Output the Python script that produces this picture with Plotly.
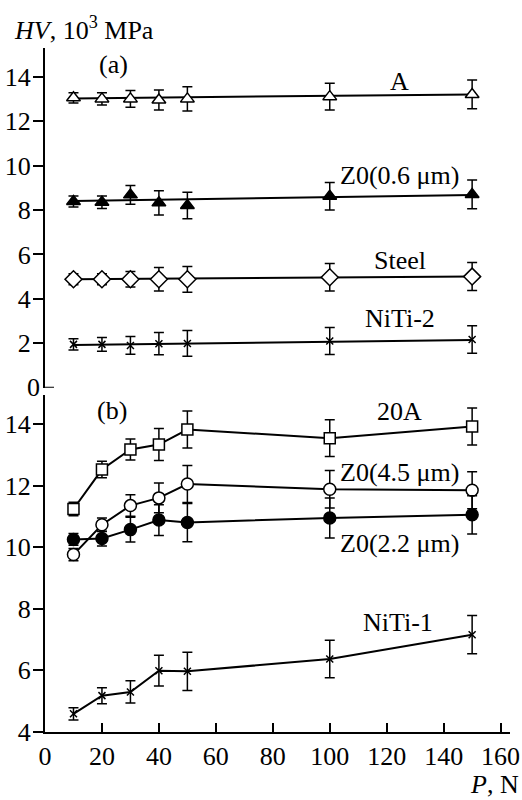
import plotly.graph_objects as go

# ---------------- data ----------------
P = [10, 20, 30, 40, 50, 100, 150]
fit_x = [10, 150]

# panel (a)
A_hv = [13.05, 13.0, 13.0, 12.95, 13.0, 13.1, 13.2]
A_err = [0.23, 0.28, 0.38, 0.45, 0.55, 0.6, 0.65]
A_fit = [13.02, 13.2]

Z06_hv = [8.38, 8.35, 8.68, 8.32, 8.2, 8.62, 8.7]
Z06_err = [0.25, 0.28, 0.42, 0.55, 0.6, 0.62, 0.65]
Z06_fit = [8.4, 8.67]

Steel_hv = [4.88, 4.88, 4.88, 4.88, 4.88, 4.97, 5.0]
Steel_err = [0.25, 0.25, 0.35, 0.53, 0.58, 0.62, 0.63]
Steel_fit = [4.88, 5.0]

NiTi2_hv = [1.95, 1.95, 1.9, 1.98, 1.99, 2.1, 2.17]
NiTi2_err = [0.25, 0.31, 0.4, 0.5, 0.58, 0.61, 0.62]
NiTi2_fit = [1.92, 2.15]

# panel (b)
A20_hv = [11.24, 12.52, 13.17, 13.33, 13.82, 13.54, 13.92]
A20_err = [0.22, 0.27, 0.34, 0.52, 0.6, 0.6, 0.6]

Z45_hv = [9.76, 10.73, 11.35, 11.6, 12.05, 11.88, 11.85]
Z45_err = [0.2, 0.22, 0.35, 0.48, 0.6, 0.61, 0.6]

Z22_hv = [10.25, 10.28, 10.57, 10.88, 10.8, 10.95, 11.05]
Z22_err = [0.19, 0.24, 0.4, 0.5, 0.62, 0.65, 0.62]

NiTi1_hv = [4.59, 5.18, 5.3, 5.99, 5.97, 6.37, 7.16]
NiTi1_err = [0.2, 0.26, 0.36, 0.5, 0.62, 0.61, 0.62]

x_ticks = [0, 20, 40, 60, 80, 100, 120, 140, 160]
ya_ticks = [2, 4, 6, 8, 10, 12, 14]
yb_ticks = [4, 6, 8, 10, 12, 14]

# labels: (text, x, y, panel)
labels = [
    ("(a)", 23.9, 14.57, "a"),
    ("A", 124.6, 13.77, "a"),
    ("Z0(0.6 μm)", 124.6, 9.57, "a"),
    ("Steel", 124.6, 5.74, "a"),
    ("NiTi-2", 124.6, 3.12, "a"),
    ("(b)", 23.5, 14.45, "b"),
    ("20A", 124.6, 14.41, "b"),
    ("Z0(4.5 μm)", 124.6, 12.41, "b"),
    ("Z0(2.2 μm)", 124.6, 10.11, "b"),
    ("NiTi-1", 124.0, 7.57, "b"),
]

FONT = "Liberation Serif"
BLACK = "black"
FS = 26

fig = go.Figure()


def err(e):
    return dict(type="data", array=e, visible=True, color=BLACK, thickness=1.5, width=5)


def add_series(x, y, e, symbol, fill, size, xa, ya, lines=True):
    fig.add_trace(go.Scatter(
        x=x, y=y, xaxis=xa, yaxis=ya,
        mode="lines+markers" if lines else "markers",
        line=dict(color=BLACK, width=2),
        marker=dict(symbol=symbol, size=size, color=fill,
                    line=dict(color=BLACK, width=1.5)),
        error_y=err(e), showlegend=False, hoverinfo="skip"))


def add_fit(y, xa, ya):
    fig.add_trace(go.Scatter(x=fit_x, y=y, xaxis=xa, yaxis=ya, mode="lines",
                             line=dict(color=BLACK, width=2),
                             showlegend=False, hoverinfo="skip"))


# panel (a): fitted lines + points
add_fit(A_fit, "x2", "y2")
add_fit(Z06_fit, "x2", "y2")
add_fit(Steel_fit, "x2", "y2")
add_fit(NiTi2_fit, "x2", "y2")
add_series(P, A_hv, A_err, "triangle-up", "white", 12, "x2", "y2", lines=False)
add_series(P, Z06_hv, Z06_err, "triangle-up", BLACK, 12, "x2", "y2", lines=False)
add_series(P, Steel_hv, Steel_err, "diamond", "white", 13, "x2", "y2", lines=False)
add_series(P, NiTi2_hv, NiTi2_err, "x-thin", BLACK, 7, "x2", "y2", lines=False)

# panel (b): connected points
add_series(P, A20_hv, A20_err, "square", "white", 11, "x", "y")
add_series(P, Z45_hv, Z45_err, "circle", "white", 12, "x", "y")
add_series(P, Z22_hv, Z22_err, "circle", BLACK, 12, "x", "y")
add_series(P, NiTi1_hv, NiTi1_err, "x-thin", BLACK, 7, "x", "y")

for txt, lx, ly, pan in labels:
    fig.add_annotation(x=lx, y=ly, text=txt, showarrow=False,
                       xref="x" if pan == "b" else "x2",
                       yref="y" if pan == "b" else "y2",
                       xanchor="center", yanchor="middle",
                       font=dict(family=FONT, size=FS, color=BLACK))

# "0" label and inward tick for panel (a)
fig.add_annotation(x=0, y=0, xref="paper", yref="y2", text="0", showarrow=False,
                   xanchor="right", yanchor="middle", xshift=-3,
                   font=dict(family=FONT, size=FS, color=BLACK))
fig.add_shape(type="line", xref="paper", yref="y2", x0=0, x1=9 / 465, y0=0, y1=0,
              line=dict(color=BLACK, width=2))

# axis titles
fig.add_annotation(x=-33 / 465, y=(732 - 28) / 684, xref="paper", yref="paper",
                   text="<i>HV</i>, 10<sup>3</sup> MPa", showarrow=False,
                   xanchor="left", yanchor="middle",
                   font=dict(family=FONT, size=FS, color=BLACK))
fig.add_annotation(x=(521 - 45) / 465, y=(732 - 784) / 684, xref="paper", yref="paper",
                   text="<i>P</i>, N", showarrow=False,
                   xanchor="right", yanchor="middle",
                   font=dict(family=FONT, size=FS, color=BLACK))

axis_common = dict(showgrid=False, zeroline=False, showline=True, linecolor=BLACK,
                   linewidth=2, tickcolor=BLACK, tickwidth=1.5, automargin=False,
                   tickfont=dict(family=FONT, size=FS, color=BLACK))

fig.update_layout(
    width=522, height=800,
    font=dict(family=FONT, size=FS, color=BLACK),
    margin=dict(l=45, r=12, t=48, b=68, autoexpand=False),
    paper_bgcolor="white", plot_bgcolor="white",
    xaxis=dict(domain=[0, 1], range=[0, 163.3], tickmode="array", tickvals=x_ticks,
               ticks="inside", ticklen=9, anchor="y", **axis_common),
    yaxis=dict(domain=[0, (732 - 395) / 684], range=[4, 14.94], tickmode="array",
               tickvals=yb_ticks, ticks="outside", ticklen=10, anchor="x",
               ticklabelstandoff=-3, **axis_common),
    xaxis2=dict(domain=[0, 1], range=[0, 163.3], visible=False, anchor="y2",
                automargin=False),
    yaxis2=dict(domain=[(732 - 387.7) / 684, 1], range=[0, 15.29], tickmode="array",
                tickvals=ya_ticks, ticks="outside", ticklen=10, anchor="x2",
                ticklabelstandoff=-3, **axis_common),
)

fig.write_html("out.html")
